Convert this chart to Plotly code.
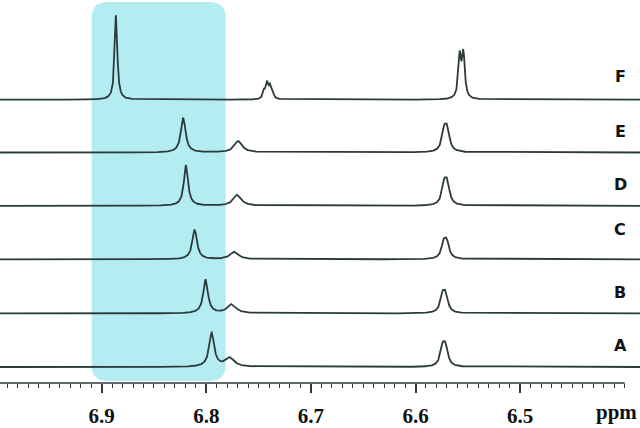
import numpy as np
import plotly.graph_objects as go

# ---- data ----
spectrum_names = ["A", "B", "C", "D", "E", "F"]
baselines = [16.2, 70.5, 125.3, 179.5, 233.5, 287.0]
label_heights = [38, 92, 156, 201, 255, 310]

# peaks: (ppm, height, half-width) per spectrum
peaks_A = [(6.7948, 34, 0.0029), (6.7775, 9, 0.0052), (6.5742, 17.5, 0.0026), (6.5712, 17.5, 0.0026)]
peaks_B = [(6.8006, 34, 0.0027), (6.7757, 9, 0.0050), (6.5742, 16, 0.0026), (6.5712, 16, 0.0026)]
peaks_C = [(6.8111, 30, 0.0027), (6.7732, 7.5, 0.0048), (6.5730, 14.7, 0.0026), (6.5700, 14.7, 0.0026)]
peaks_D = [(6.8194, 41, 0.0024), (6.7704, 11, 0.0046), (6.5726, 19.3, 0.0026), (6.5696, 19.3, 0.0026)]
peaks_E = [(6.8220, 35, 0.0027), (6.7694, 11.5, 0.0046), (6.5726, 19.6, 0.0026), (6.5696, 19.6, 0.0026)]
peaks_F = [(6.8863, 86, 0.0015), (6.7447, 8, 0.0014), (6.7418, 15, 0.0014), (6.7390, 12, 0.0014),
           (6.7362, 4, 0.0014), (6.5577, 42, 0.0016), (6.5542, 44, 0.0016)]
all_peaks = [peaks_A, peaks_B, peaks_C, peaks_D, peaks_E, peaks_F]

major_ticks = [6.9, 6.8, 6.7, 6.6, 6.5, 6.4]
major_text = ["6.9", "6.8", "6.7", "6.6", "6.5", ""]
minor_ticks = [round(7.0 - 0.01 * i, 2) for i in range(61)]

x_range = [6.9972, 6.3854]
highlight_x = [6.9096, 6.7815]
highlight_y = [2, 386]

line_color = "#2c3a3c"

ppm = np.arange(6.3854, 6.9972, 0.0002)

fig = go.Figure()
for name, base, pk in zip(spectrum_names, baselines, all_peaks):
    y = np.full_like(ppm, base)
    for c, h, g in pk:
        y = y + h * g ** 2 / (g ** 2 + (ppm - c) ** 2)
    fig.add_trace(go.Scatter(x=ppm, y=y, mode="lines",
                             line=dict(color=line_color, width=1.8),
                             showlegend=False, hoverinfo="skip"))

for name, yl in zip(spectrum_names, label_heights):
    fig.add_annotation(x=6.4045, y=yl, text="<b>%s</b>" % name, showarrow=False,
                       font=dict(family="DejaVu Sans", size=16, color="#111"),
                       xanchor="center", yanchor="middle")

# rounded highlight box
xl, xr = highlight_x
yb, yt = highlight_y
rx, ry = 0.0155, 16
path = (f"M {xl - rx},{yb} L {xr + rx},{yb} Q {xr},{yb} {xr},{yb + ry} "
        f"L {xr},{yt - ry} Q {xr},{yt} {xr + rx},{yt} L {xl - rx},{yt} "
        f"Q {xl},{yt} {xl},{yt - ry} L {xl},{yb + ry} Q {xl},{yb} {xl - rx},{yb} Z")
fig.add_shape(type="path", path=path, xref="x", yref="y",
              fillcolor="#b3edf2", line=dict(width=0), layer="below")

# ruler line
fig.add_shape(type="line", xref="x", yref="paper", x0=x_range[0], x1=6.4, y0=0, y1=0,
              line=dict(color=line_color, width=1.6))

fig.add_annotation(x=0.999, y=-0.075, xref="paper", yref="paper", text="<b>ppm</b>",
                   showarrow=False, font=dict(family="Liberation Serif", size=21, color="#111"),
                   xanchor="right", yanchor="middle")

fig.update_layout(
    width=640, height=428,
    margin=dict(l=0, r=0, t=0, b=40),
    paper_bgcolor="white", plot_bgcolor="white",
    xaxis=dict(range=x_range, showgrid=False, zeroline=False, showline=False,
               tickmode="array", tickvals=major_ticks, ticktext=major_text,
               ticks="outside", ticklen=9, tickwidth=1.6, tickcolor=line_color,
               ticklabelstandoff=5,
               tickfont=dict(family="Liberation Serif", size=21, color="#111", weight="bold"),
               minor=dict(tickmode="array", tickvals=minor_ticks, ticks="outside",
                          ticklen=4, tickwidth=1.3, tickcolor=line_color, showgrid=False)),
    yaxis=dict(range=[0, 388], visible=False, showgrid=False, zeroline=False),
)

fig.write_html("out.html", config={"displayModeBar": False},
               post_script="document.body.style.margin='0px';document.body.style.overflow='hidden';")
